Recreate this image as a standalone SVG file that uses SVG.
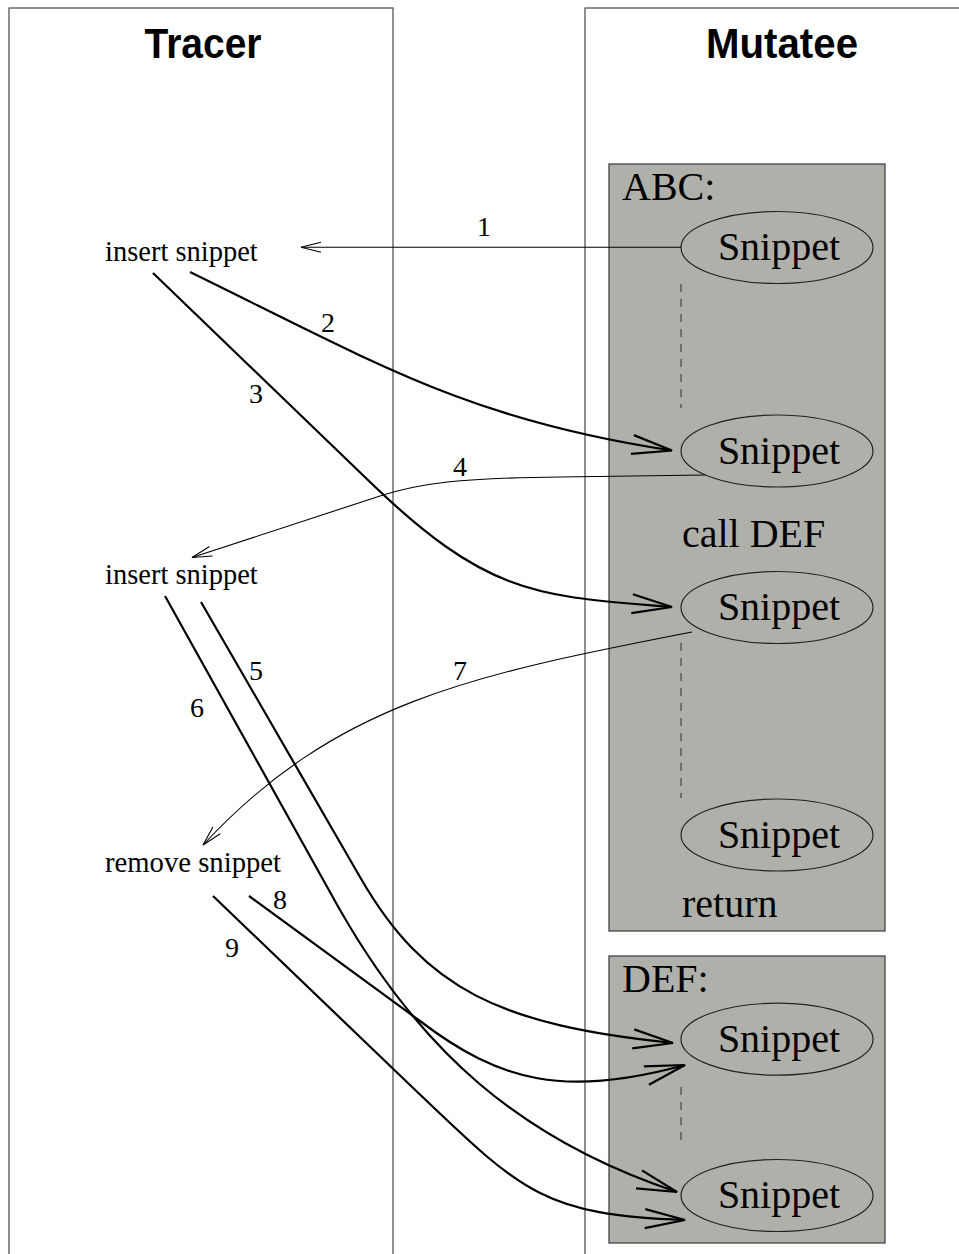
<svg xmlns="http://www.w3.org/2000/svg" width="959" height="1254" viewBox="0 0 959 1254">
<style>
.lane{fill:#fff;stroke:#555;stroke-width:1.3}
.proc{fill:#b0b0aa;stroke:#444;stroke-width:1.3}
.ell{fill:none;stroke:#222;stroke-width:1.2}
.dash{stroke:#444;stroke-width:1.2;stroke-dasharray:8,7;fill:none}
.title{font-family:"Liberation Sans",Arial,sans-serif;font-weight:bold;font-size:43px;text-anchor:middle;fill:#000}
.big{font-family:"Liberation Serif","Times New Roman",serif;font-size:40px;fill:#000}
.sm{font-family:"Liberation Serif","Times New Roman",serif;font-size:28.5px;fill:#000}
.num{font-family:"Liberation Serif","Times New Roman",serif;font-size:28px;fill:#000;text-anchor:middle}
.thick{fill:none;stroke:#000;stroke-width:2.2;marker-end:url(#ahThick)}
.thin{fill:none;stroke:#000;stroke-width:1.1;marker-end:url(#ahThin)}
</style>
<defs>
<marker id="ahThick" viewBox="-44 -14 48 28" refX="0" refY="0" markerWidth="48" markerHeight="28" orient="auto" markerUnits="userSpaceOnUse" overflow="visible">
<path d="M-40,-9.5 L0,0 L-40,9.5" fill="none" stroke="#000" stroke-width="2.2"/>
</marker>
<marker id="ahThin" viewBox="-24 -8 28 16" refX="0" refY="0" markerWidth="28" markerHeight="16" orient="auto" markerUnits="userSpaceOnUse" overflow="visible">
<path d="M-20,-5 L0,0 L-20,5" fill="none" stroke="#000" stroke-width="1.1"/>
</marker>
</defs>

<g id="tracer">
<rect class="lane" x="9" y="8" width="384" height="1260"/>
<text class="title" x="203" y="58" textLength="117" lengthAdjust="spacingAndGlyphs">Tracer</text>
</g>
<g id="mutatee">
<rect class="lane" x="585" y="8" width="400" height="1260"/>
<text class="title" x="782" y="58" textLength="152" lengthAdjust="spacingAndGlyphs">Mutatee</text>
</g>

<g id="abc">
<rect class="proc" x="609" y="164" width="276" height="767"/>
<text class="big" x="622" y="200">ABC:</text>
<text class="big" x="682" y="547">call DEF</text>
<text class="big" x="682" y="917">return</text>
<line class="dash" x1="681" y1="284" x2="681" y2="408"/>
<line class="dash" x1="681" y1="643" x2="681" y2="798"/>
</g>
<g id="abc-s1"><ellipse class="ell" cx="777" cy="247.5" rx="96" ry="36"/><text class="big" x="779" y="260" text-anchor="middle">Snippet</text></g>
<g id="abc-s2"><ellipse class="ell" cx="777" cy="451" rx="96" ry="36"/><text class="big" x="779" y="463.5" text-anchor="middle">Snippet</text></g>
<g id="abc-s3"><ellipse class="ell" cx="777" cy="607.5" rx="96" ry="36"/><text class="big" x="779" y="620" text-anchor="middle">Snippet</text></g>
<g id="abc-s4"><ellipse class="ell" cx="777" cy="835" rx="96" ry="36"/><text class="big" x="779" y="847.5" text-anchor="middle">Snippet</text></g>

<g id="def">
<rect class="proc" x="609" y="956" width="276" height="287"/>
<text class="big" x="622" y="992">DEF:</text>
<line class="dash" x1="681" y1="1087" x2="681" y2="1147"/>
</g>
<g id="def-s1"><ellipse class="ell" cx="777" cy="1039.2" rx="96" ry="36"/><text class="big" x="779" y="1051.7" text-anchor="middle">Snippet</text></g>
<g id="def-s2"><ellipse class="ell" cx="777" cy="1195.5" rx="96" ry="36"/><text class="big" x="779" y="1208" text-anchor="middle">Snippet</text></g>

<g id="ins1"><text class="sm" x="105" y="260.5">insert snippet</text></g>
<g id="ins2"><text class="sm" x="105" y="584">insert snippet</text></g>
<g id="rem"><text class="sm" x="105" y="871.5" style="font-size:28.7px">remove snippet</text></g>

<g id="connectors">
<path class="thin" d="M681,247.3 L301,247.3"/>
<path class="thick" d="M190,272 C380,365 470,420 672,450.5"/>
<path class="thick" d="M153,273 L370,482 C490,598 540,596 672,607"/>
<path class="thin" d="M705,475 L560,477 C460,478 420,483 380,496 L192,557.5"/>
<path class="thick" d="M201,602 L360,877 C425,990 500,1025 673,1043"/>
<path class="thick" d="M165,596 L340,910 C420,1050 520,1140 677,1192"/>
<path class="thin" d="M692,632 C470,675 335,703 203,845"/>
<path class="thick" d="M249,896 L420,1021 C500,1082 565,1098 685,1065"/>
<path class="thick" d="M213,896 L410,1085 C520,1190 540,1215 685,1220"/>
<text class="num" x="484" y="236">1</text>
<text class="num" x="328" y="332">2</text>
<text class="num" x="256" y="403">3</text>
<text class="num" x="460" y="476">4</text>
<text class="num" x="256" y="680">5</text>
<text class="num" x="197" y="717">6</text>
<text class="num" x="460" y="680">7</text>
<text class="num" x="280" y="909">8</text>
<text class="num" x="232" y="957">9</text>
</g>
</svg>
